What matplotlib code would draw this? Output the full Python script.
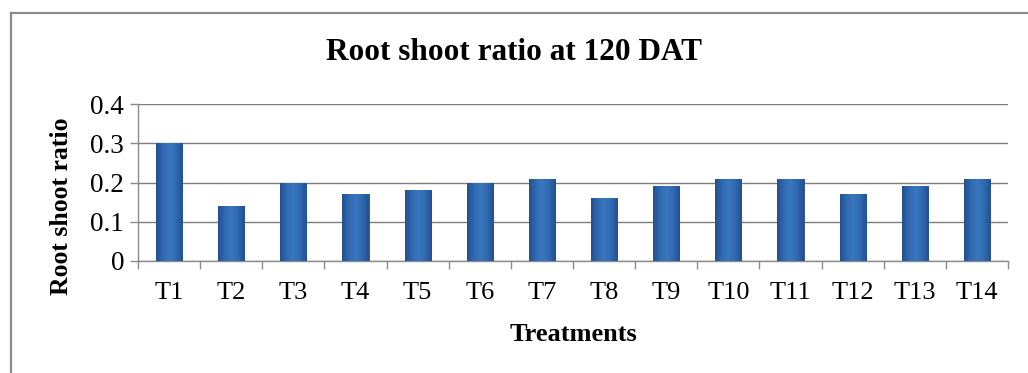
import numpy as np
import matplotlib
matplotlib.use("Agg")
import matplotlib.pyplot as plt
from matplotlib.lines import Line2D
from matplotlib.colors import LinearSegmentedColormap

treatments = ["T1", "T2", "T3", "T4", "T5", "T6", "T7",
              "T8", "T9", "T10", "T11", "T12", "T13", "T14"]
root_shoot_ratio = [0.30, 0.14, 0.20, 0.17, 0.18, 0.20, 0.21,
                    0.16, 0.19, 0.21, 0.21, 0.17, 0.19, 0.21]
y_ticks = [0, 0.1, 0.2, 0.3, 0.4]
y_tick_labels = ["0", "0.1", "0.2", "0.3", "0.4"]

plt.rcParams["font.family"] = ["Liberation Serif", "DejaVu Serif"]

fig = plt.figure(figsize=(10.28, 3.73), dpi=100)
fig.patch.set_facecolor("white")

# outer chart frame (left and top edges)
fig.add_artist(Line2D([11 / 1028, 11 / 1028], [0, 1 - 13 / 373],
                      transform=fig.transFigure, color="#8a8a8a", lw=1.6))
fig.add_artist(Line2D([11 / 1028, 1], [1 - 13 / 373, 1 - 13 / 373],
                      transform=fig.transFigure, color="#8a8a8a", lw=1.6))

ax = fig.add_axes([138 / 1028, 1 - 261 / 373, (1008 - 138) / 1028, (261 - 104) / 373])

x = np.arange(len(treatments))
bars = ax.bar(x, root_shoot_ratio, width=0.42, color="#2f68b0",
              edgecolor="#234f8c", linewidth=0.6, zorder=3)

# cylinder-like horizontal shading on each bar
shade = LinearSegmentedColormap.from_list(
    "shade", ["#23518f", "#2f69b1", "#3a77bf", "#2f69b1", "#23518f"])
grad = np.linspace(0, 1, 64).reshape(1, -1)
for b in bars:
    bx, by = b.get_x(), b.get_y()
    bw, bh = b.get_width(), b.get_height()
    im = ax.imshow(grad, cmap=shade, aspect="auto",
                   extent=[bx, bx + bw, by, by + bh], zorder=4)
    im.set_clip_path(b)

ax.set_xlim(-0.5, len(treatments) - 0.5)
ax.set_ylim(0, 0.4)
ax.set_yticks(y_ticks)
ax.set_yticklabels(y_tick_labels)
ax.set_xticks(x)
ax.set_xticklabels(treatments)
ax.set_xticks(np.arange(-0.5, len(treatments), 1.0), minor=True)

ax.grid(axis="y", color="#7f7f7f", lw=1.0, zorder=0)
for s in ["top", "right"]:
    ax.spines[s].set_visible(False)
ax.spines["left"].set_color("#8c8c8c")
ax.spines["bottom"].set_color("#8c8c8c")
ax.spines["left"].set_linewidth(1.0)
ax.spines["bottom"].set_linewidth(1.0)

ax.tick_params(axis="x", which="major", length=0, pad=15, labelsize=19)
ax.tick_params(axis="x", which="minor", length=6, color="#8c8c8c", width=1.0)
ax.tick_params(axis="y", length=6, color="#8c8c8c", width=1.0, pad=4, labelsize=19.5)

ax.set_xlabel("Treatments", fontsize=19, fontweight="bold", labelpad=14)
ax.set_ylabel("Root shoot ratio", fontsize=18.5, fontweight="bold")
ax.yaxis.set_label_coords(-0.075, 0.35)

fig.text(0.5, 1 - 52 / 373, "Root shoot ratio at 120 DAT", ha="center",
         va="center", fontsize=22.5, fontweight="bold")

fig.savefig("out.png", dpi=100)
